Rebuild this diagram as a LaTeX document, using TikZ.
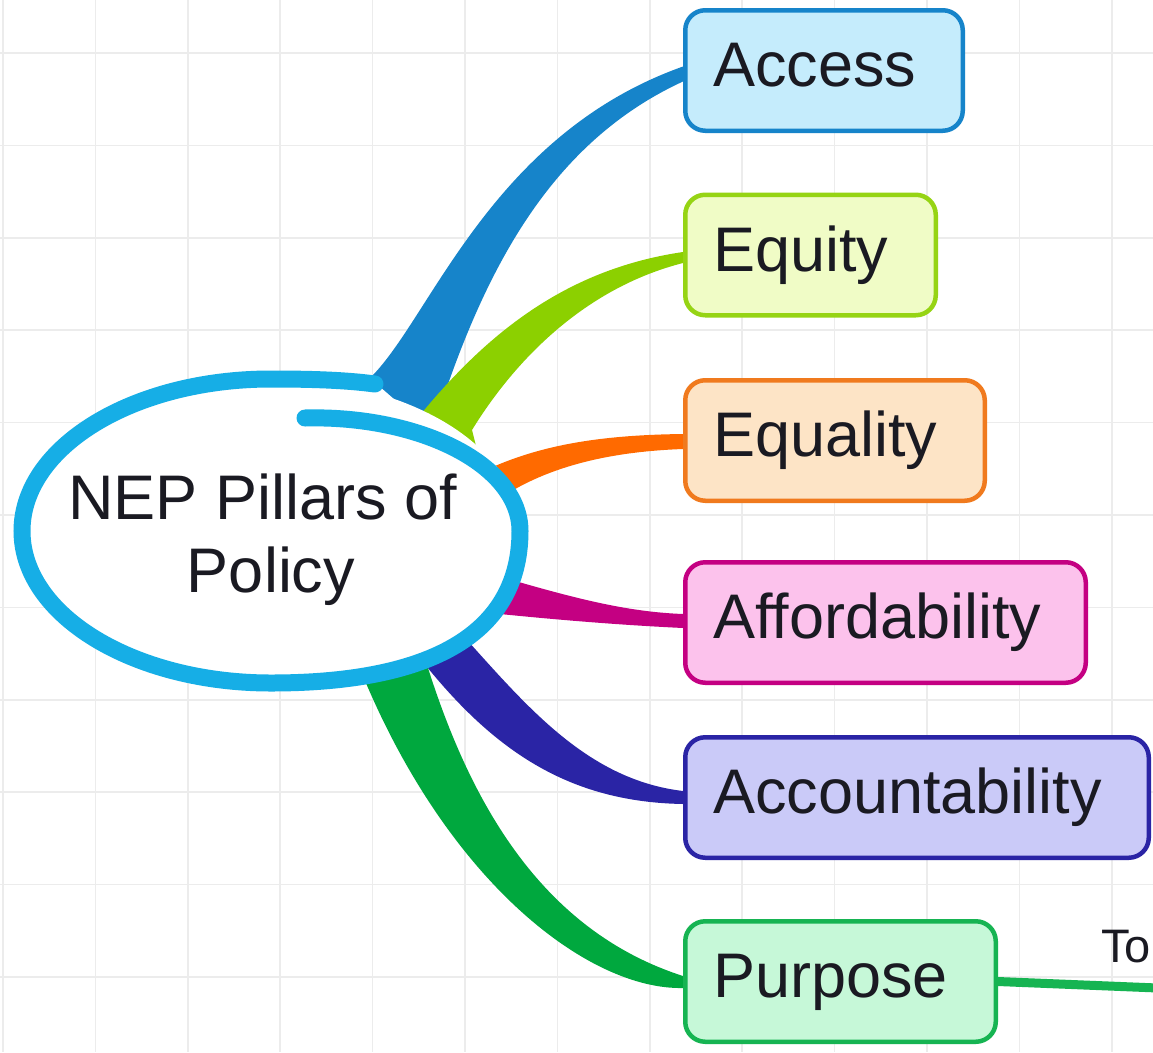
\documentclass[tikz,border=0pt]{standalone}
\usepackage{fontspec}
\setmainfont{Liberation Sans}
\usetikzlibrary{calc}
\definecolor{gridc}{RGB}{236,236,236}
\definecolor{txt}{RGB}{26,26,34}
\definecolor{hubc}{RGB}{22,174,230}
\definecolor{accB}{RGB}{22,132,202}
\definecolor{accF}{RGB}{197,236,252}
\definecolor{eqtB}{RGB}{140,208,0}
\definecolor{eqtBd}{RGB}{150,212,20}
\definecolor{eqtF}{RGB}{240,252,198}
\definecolor{eqlB}{RGB}{255,106,0}
\definecolor{eqlBd}{RGB}{240,122,30}
\definecolor{eqlF}{RGB}{253,228,198}
\definecolor{affB}{RGB}{196,0,130}
\definecolor{affF}{RGB}{252,194,236}
\definecolor{accoB}{RGB}{42,36,165}
\definecolor{accoF}{RGB}{202,202,248}
\definecolor{purB}{RGB}{0,168,62}
\definecolor{purBd}{RGB}{22,180,82}
\definecolor{purF}{RGB}{198,248,216}
\pgfdeclarelayer{gridlayer}
\pgfdeclarelayer{branchlayer}
\pgfsetlayers{gridlayer,branchlayer,main}
\begin{document}
\begin{tikzpicture}[x=1pt,y=-1pt,
  gridline/.style={draw=gridc, line width=1.6pt},
  pillar/.style={draw, line width=4.5pt, rounded corners=20pt, anchor=west,
    minimum height=120.5pt, inner xsep=28pt, inner ysep=0pt,
    text height=45pt, text depth=13pt, align=left,
    font=\fontsize{63}{73}\selectfont, text=txt},
  hubtext/.style={align=center, inner sep=0pt, font=\fontsize{63}{73}\selectfont, text=txt}]
\useasboundingbox (0,0) rectangle (1153,1052);
% pillar boxes
\node[pillar, fill=accF, draw=accB, minimum width=277.5pt, text width=221.5pt] (access) at (683,70.5) {Access};
\node[pillar, fill=eqtF, draw=eqtBd, minimum width=250.5pt, text width=194.5pt] (equity) at (683,255) {Equity};
\node[pillar, fill=eqlF, draw=eqlBd, minimum width=299.5pt, text width=243.5pt] (equality) at (683,440.5) {Equality};
\node[pillar, fill=affF, draw=affB, minimum width=400.5pt, text width=344.5pt] (aff) at (683,622.5) {Affordability};
\node[pillar, fill=accoF, draw=accoB, minimum width=463.5pt, text width=407.5pt] (acco) at (683,797.5) {Accountability};
\node[pillar, fill=purF, draw=purBd, minimum width=310.5pt, text width=254.5pt] (purpose) at (683,981.5) {Purpose};
\node[hubtext] (hub) at (271,540) {NEP Pillars of\makebox[17pt]{}\\Policy};
% outgoing connector from Purpose
\coordinate (toend) at (1170,988.5);
\draw[purBd, line width=9pt] (purpose.east) -- (toend);
\node[anchor=base west, inner sep=0pt, font=\fontsize{47}{56}\selectfont, text=txt] (tolabel) at (1101,962) {To};
% background, grid
\begin{pgfonlayer}{gridlayer}
\fill[white] (0,0) rectangle (1153,1052);
\foreach \k in {0,...,12} \draw[gridline] ({3+92.4*\k},0) -- ({3+92.4*\k},1052);
\foreach \k in {0,...,10} \draw[gridline] (0,{53+92.4*\k}) -- (1153,{53+92.4*\k});
\end{pgfonlayer}
% branches and hub outline
\begin{pgfonlayer}{branchlayer}
\coordinate (sA1) at (370,378); \coordinate (sA2) at (432,432);
\coordinate (sB1) at (412,425); \coordinate (sB2) at (472,430); \coordinate (sB3) at (480,462);
\coordinate (sC1) at (486,470); \coordinate (sC2) at (505,495);
\coordinate (sD1) at (505,578); \coordinate (sD2) at (500,614);
\coordinate (sE1) at (467,640); \coordinate (sE2) at (423,662);
\coordinate (sF1) at (428,668); \coordinate (sF2) at (363,676);
\fill[accB] (sA1) .. controls (430,320) and (490,135) .. ([yshift=4pt]access.west)
  -- ([yshift=-11pt]access.west) .. controls (545,145) and (480,280) .. (sA2) -- cycle;
\fill[eqtB] (sB1) .. controls (480,340) and (560,270) .. ([yshift=3pt]equity.west)
  -- ([yshift=-8pt]equity.west) .. controls (585,288) and (515,360) .. (sB2) -- (sB3) -- cycle;
\fill[eqlB] (sC1) .. controls (540,445) and (600,435) .. ([yshift=6.5pt]equality.west)
  -- ([yshift=-8.5pt]equality.west) .. controls (600,452) and (545,470) .. (sC2) -- cycle;
\fill[affB] (sD1) .. controls (580,600) and (630,612) .. ([yshift=8.5pt]aff.west)
  -- ([yshift=-5.5pt]aff.west) .. controls (620,625) and (560,620) .. (sD2) -- cycle;
\fill[accoB] (sE1) .. controls (530,710) and (590,780) .. ([yshift=6.5pt]acco.west)
  -- ([yshift=-6.5pt]acco.west) .. controls (570,802) and (495,752) .. (sE2) -- cycle;
\fill[purB] (sF1) .. controls (470,800) and (540,930) .. ([yshift=5.5pt]purpose.west)
  -- ([yshift=-6.5pt]purpose.west) .. controls (590,990) and (450,885) .. (sF2) -- cycle;
\fill[white] (520,531) .. controls (520,640) and (420,683) .. (271,683)
  .. controls (133,683) and (22,615) .. (22,531)
  .. controls (22,447) and (133,379) .. (271,379)
  .. controls (408,379) and (520,447) .. (520,531) -- cycle;
\draw[hubc, line width=17pt, line cap=round]
  (305,418) .. controls (420,415) and (520,465) .. (520,531)
  .. controls (520,640) and (420,683) .. (271,683)
  .. controls (133,683) and (22,615) .. (22,531)
  .. controls (22,447) and (133,379) .. (271,379)
  .. controls (310,379) and (345,380) .. (375,384);
\end{pgfonlayer}
\end{tikzpicture}
\end{document}
